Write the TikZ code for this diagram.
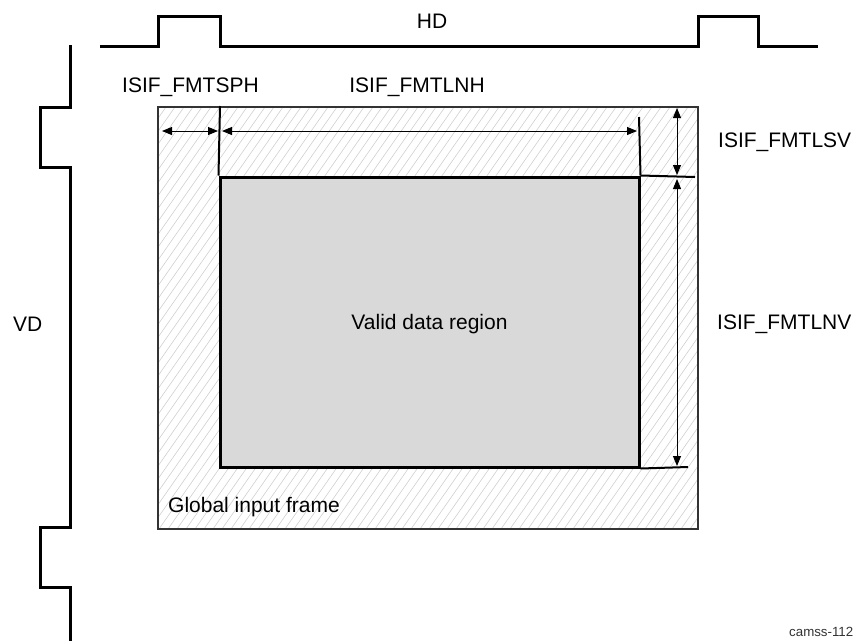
\documentclass[tikz,border=0pt]{standalone}
\usepackage{fontspec}
\setmainfont{Liberation Sans}
\usetikzlibrary{arrows.meta}
\definecolor{vgray}{HTML}{D9D9D9}
\definecolor{hgray}{HTML}{CFCFCF}
\begin{document}
\begin{tikzpicture}[x=1pt,y=-1pt,
  sig/.style={line width=3pt, line join=miter},
  lbl/.style={inner sep=0pt, font=\fontsize{21}{25}\selectfont},
  small/.style={inner sep=0pt, font=\fontsize{13.3}{16}\selectfont, text=black!80},
  dim/.style={line width=0.9pt, {Triangle[length=10pt,width=8pt]}-{Triangle[length=10pt,width=8pt]}},
  hatch/.style={draw=hgray, line width=0.6pt},
  ext/.style={line width=2pt},
  framebox/.style={draw=black!80, line width=1.2pt},
  validbox/.style={rectangle, draw=black, line width=3pt, fill=vgray, minimum width=419pt, minimum height=290pt, inner sep=0pt}]
\useasboundingbox (0,0) rectangle (854,641);

% signals
\draw[sig] (100,46) -- (158,46) -- (158,16) -- (220,16) -- (220,46) -- (698,46) -- (698,16) -- (758,16) -- (758,46) -- (818,46);
\draw[sig] (70,45) -- (70,107) -- (40,107) -- (40,167) -- (70,167) -- (70,527) -- (40,527) -- (40,587) -- (70,587) -- (70,641);

% global frame with hatching
\coordinate (fTL) at (158,107);
\coordinate (fBR) at (698,529);
\begin{scope}
\clip (fTL) rectangle (fBR);
\foreach \x in {-300,-291,...,700} \draw[hatch] (\x,529) -- ++(295,-422);
\end{scope}
\draw[framebox] (fTL) rectangle (fBR);

% valid region
\node[validbox] (valid) at (429.5,322) {};
\node[lbl, anchor=base] (validtxt) at (429.5,329) {Valid data region};

% extension lines
\coordinate (t1) at (220,106);
\coordinate (t2) at (639,117);
\coordinate (t3) at (695,177);
\coordinate (t4) at (688,467);
\draw[ext] (t1) -- (valid.north west);
\draw[ext] (t2) -- (valid.north east);
\draw[ext] (valid.north east) -- (t3);
\draw[ext] (valid.south east) -- (t4);

% dimension arrows
\coordinate (h1a) at (162,131);
\coordinate (h1b) at (218,131);
\coordinate (h2a) at (222,131);
\coordinate (h2b) at (637,131);
\coordinate (v1a) at (677,108);
\coordinate (v1b) at (677,175);
\coordinate (v2a) at (677,179);
\coordinate (v2b) at (677,466);
\draw[dim] (h1a) -- (h1b);
\draw[dim] (h2a) -- (h2b);
\draw[dim] (v1a) -- (v1b);
\draw[dim] (v2a) -- (v2b);

% labels
\node[lbl, anchor=base] (hd) at (432,28) {HD};
\node[lbl, anchor=base west] (sph) at (122,92) {ISIF\_FMTSPH};
\node[lbl, anchor=base] (lnh) at (417,92) {ISIF\_FMTLNH};
\node[lbl, anchor=base west] (lsv) at (718,147) {ISIF\_FMTLSV};
\node[lbl, anchor=base west] (lnv) at (717,329) {ISIF\_FMTLNV};
\node[lbl, anchor=base west] (vd) at (13,331) {VD};
\node[lbl, anchor=base west] (gif) at (168,512) {Global input frame};
\node[small, anchor=base west] (cam) at (789,636) {camss-112};
\end{tikzpicture}
\end{document}
